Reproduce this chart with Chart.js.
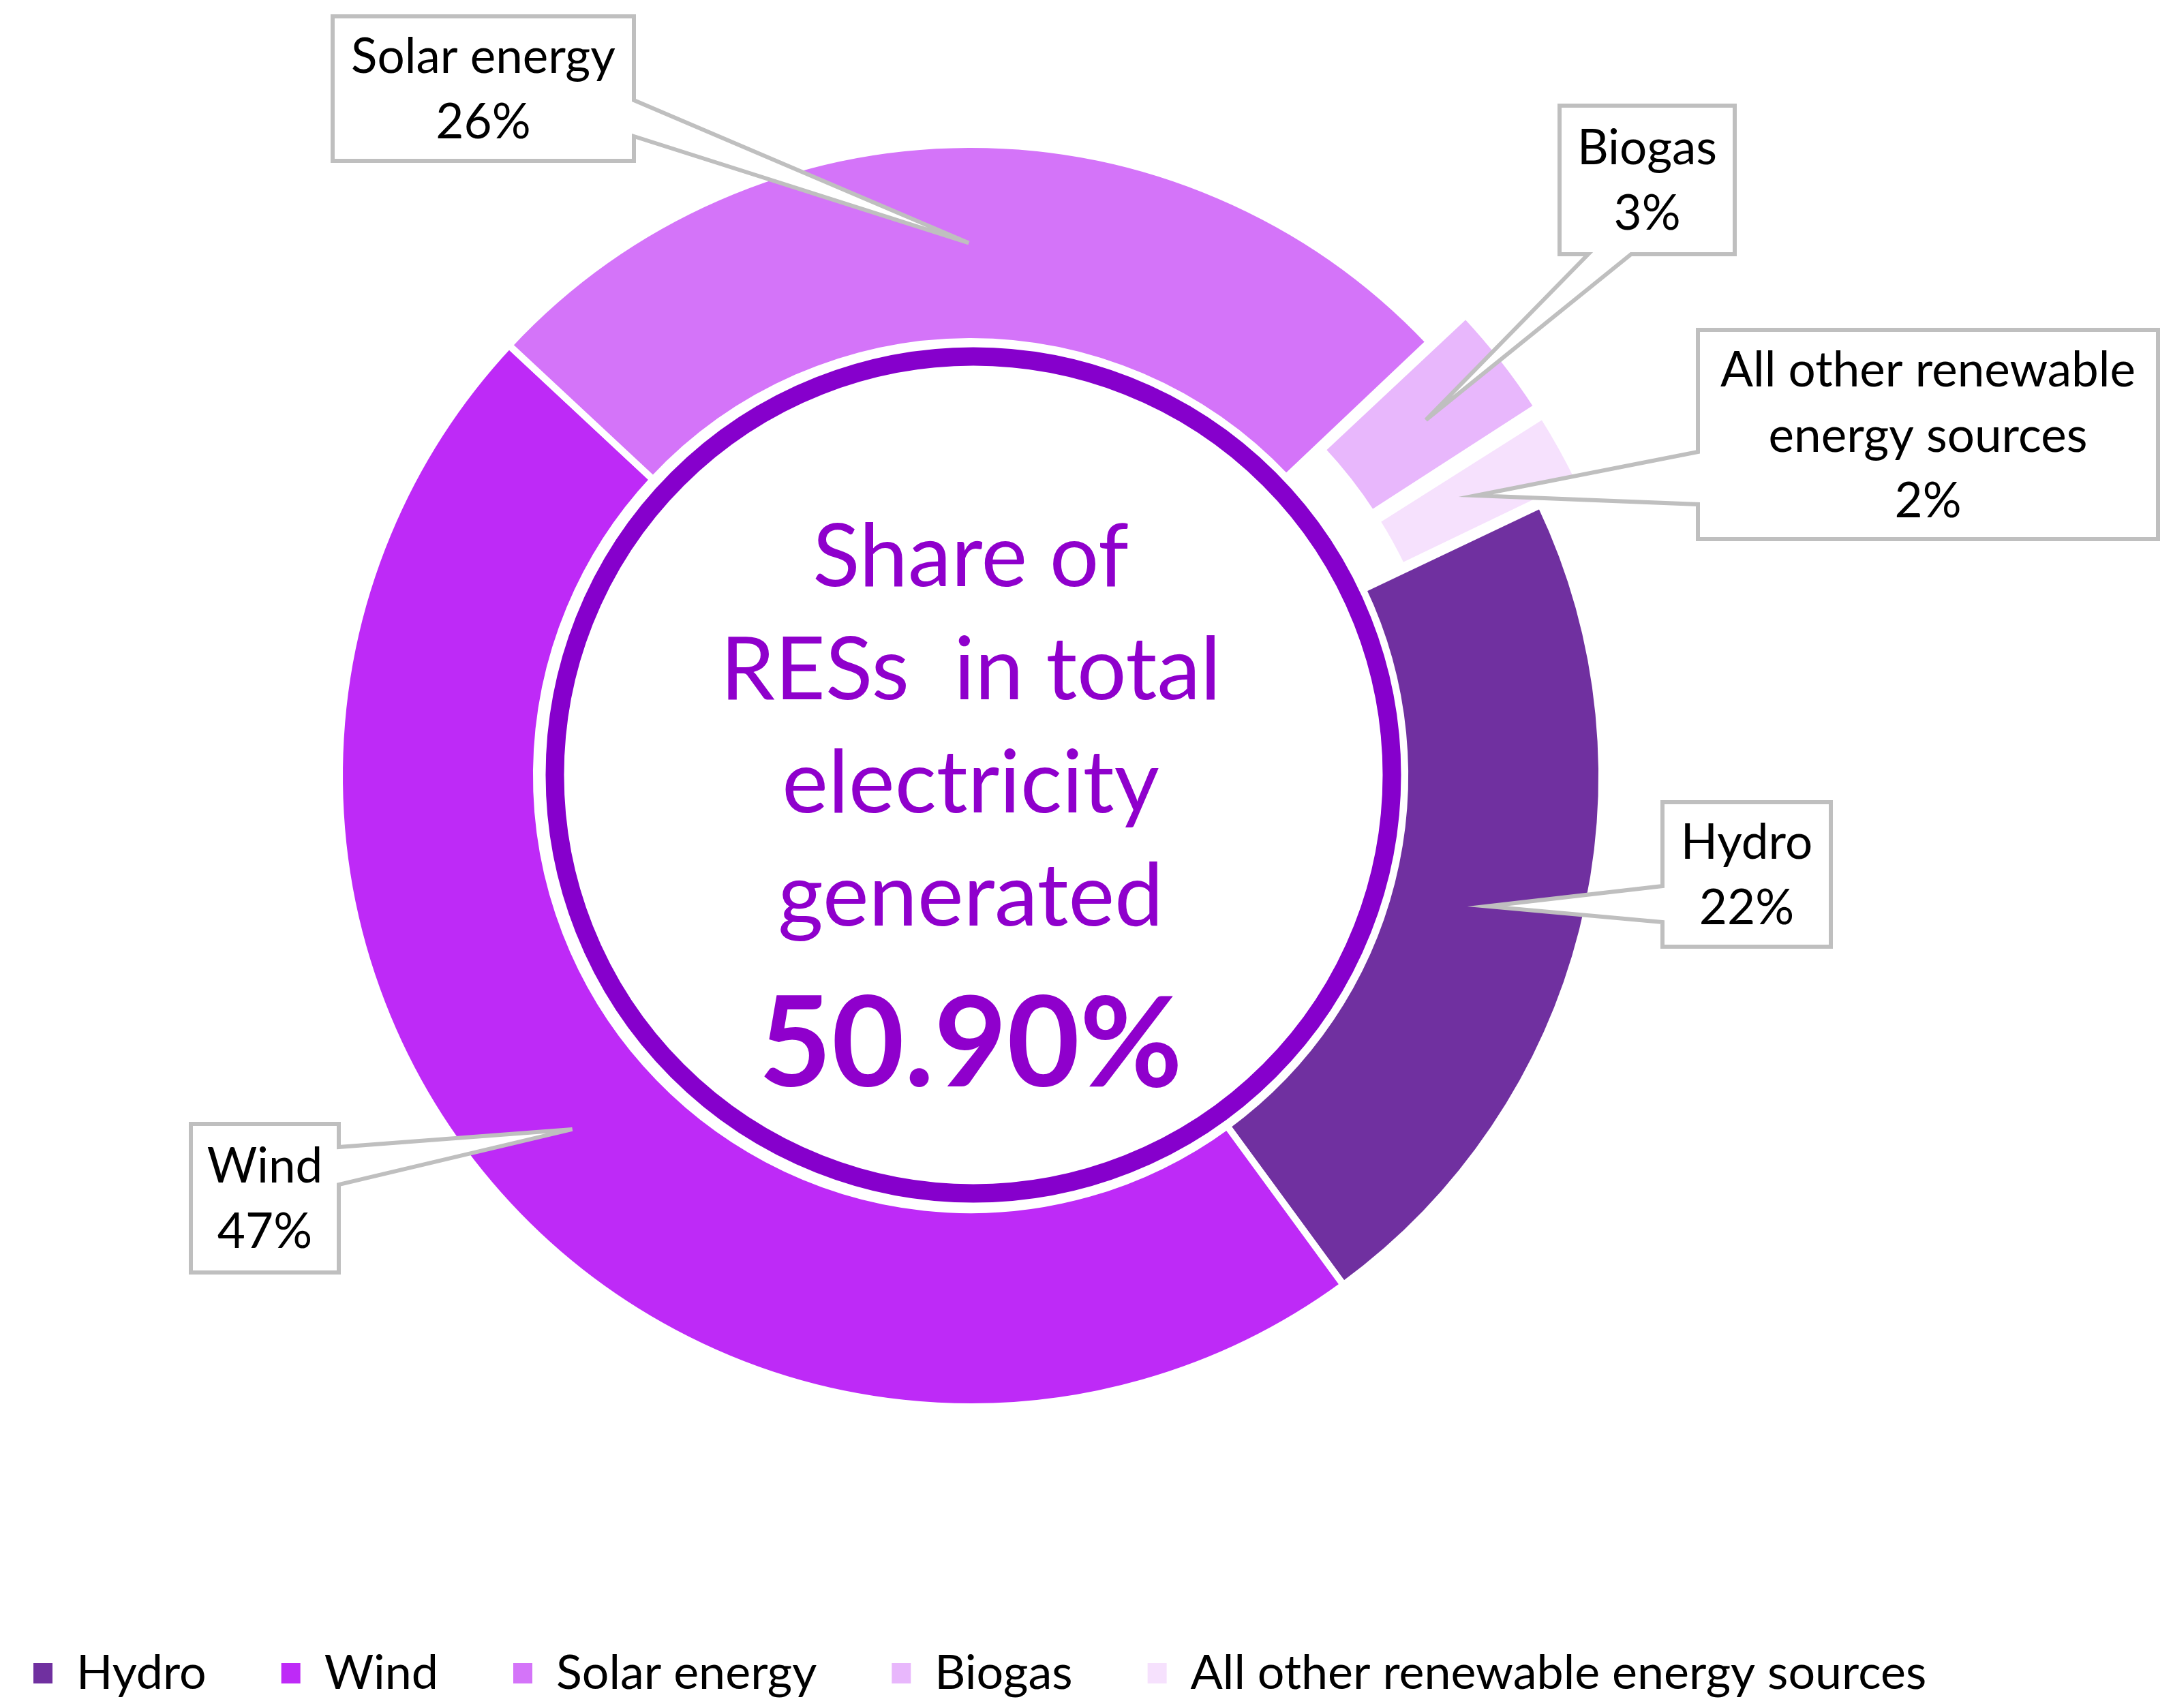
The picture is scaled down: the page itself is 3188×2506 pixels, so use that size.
<!DOCTYPE html>
<html>
<head>
<meta charset="utf-8">
<script src="https://cdn.jsdelivr.net/npm/chart.js@4.4.1/dist/chart.umd.min.js"></script>
<style>
  html, body { margin: 0; padding: 0; background: #ffffff; }
  #wrap { width: 3188px; height: 2506px; }
</style>
</head>
<body>
<div id="wrap"><canvas id="resChart" width="3188" height="2506"></canvas></div>
<script>
// data
const categories = ['Hydro', 'Wind', 'Solar energy', 'Biogas', 'All other renewable energy sources'];
const shares = [22, 47, 26, 3, 2];
const sliceColors = ['#7030A0', '#BE2AF7', '#D474F9', '#E8B7FC', '#F6E1FD'];
const explode = [0, 0, 0, 146, 141];

const centerLines = ['Share of', 'RESs  in total', 'electricity', 'generated'];
const resShare = 50.90;

// where the ring sits on the page
const ringCenter = { x: 1424, y: 1138 };

// callout boxes (annotation layout), one per category
const calloutBoxes = [
    { x0: 2439, y0: 1177, x1: 2686, y1: 1389, side: 'left', b0: 1300, b1: 1353 },
    { x0: 280, y0: 1649, x1: 497, y1: 1867, side: 'right', b0: 1683, b1: 1738 },
    { x0: 488, y0: 24, x1: 930, y1: 236, side: 'right', b0: 147, b1: 200 },
    { x0: 2288, y0: 155, x1: 2545, y1: 373, side: 'bottom', b0: 2330, b1: 2393 },
    { x0: 2491, y0: 484, x1: 3166, y1: 791, side: 'left', b0: 663, b1: 740 }
];

const FONT = 'Lato, "Open Sans", sans-serif';

function wrapText(ctx, text, maxWidth) {
    const words = text.split(' ');
    const lines = [];
    let line = '';
    words.forEach(w => {
        const test = line ? line + ' ' + w : w;
        if (line && ctx.measureText(test).width > maxWidth) {
            lines.push(line);
            line = w;
        } else {
            line = test;
        }
    });
    if (line) lines.push(line);
    return lines;
}

// the legend needs the full width, so the ring area is set here instead of by padding
const placeRing = {
    id: 'placeRing',
    afterLayout(chart) {
        const a = chart.chartArea;
        a.right = 2 * ringCenter.x - a.left;
        a.bottom = 2 * ringCenter.y - a.top;
        a.width = a.right - a.left;
        a.height = a.bottom - a.top;
    }
};

const centerPlugin = {
    id: 'centerPlugin',
    afterDatasetsDraw(chart) {
        const ctx = chart.ctx;
        const arc = chart.getDatasetMeta(0).data[0];
        const cx = arc.x, cy = arc.y;
        ctx.save();
        ctx.beginPath();
        ctx.arc(cx + 4, cy - 1, 614, 0, Math.PI * 2);
        ctx.lineWidth = 27;
        ctx.strokeStyle = '#8600CC';
        ctx.stroke();

        ctx.fillStyle = '#8F00CC';
        ctx.textAlign = 'center';
        ctx.textBaseline = 'alphabetic';
        ctx.font = '128px ' + FONT;
        centerLines.forEach((t, i) => {
            ctx.fillText(t, cx, cy - 278 + i * 166);
        });
        ctx.font = 'bold 184px ' + FONT;
        ctx.fillText(resShare.toFixed(2) + '%', cx, cy + 456);
        ctx.restore();
    }
};

const calloutPlugin = {
    id: 'calloutPlugin',
    afterDatasetsDraw(chart) {
        const ctx = chart.ctx;
        const arcs = chart.getDatasetMeta(0).data;
        const total = shares.reduce((a, b) => a + b, 0);
        ctx.save();
        arcs.forEach((arc, i) => {
            const b = calloutBoxes[i];
            const mid = (arc.startAngle + arc.endAngle) / 2;
            const o = (arc.options.offset || 0) / 4;
            const fix = 1 - Math.sin(Math.min(Math.PI, arc.circumference));
            const r = (arc.innerRadius + arc.outerRadius) / 2 + o + o * fix;
            const tx = arc.x + Math.cos(mid) * r;
            const ty = arc.y + Math.sin(mid) * r;

            ctx.beginPath();
            ctx.moveTo(b.x0, b.y0);
            ctx.lineTo(b.x1, b.y0);
            if (b.side === 'right') {
                ctx.lineTo(b.x1, b.b0); ctx.lineTo(tx, ty); ctx.lineTo(b.x1, b.b1);
            }
            ctx.lineTo(b.x1, b.y1);
            if (b.side === 'bottom') {
                ctx.lineTo(b.b1, b.y1); ctx.lineTo(tx, ty); ctx.lineTo(b.b0, b.y1);
            }
            ctx.lineTo(b.x0, b.y1);
            if (b.side === 'left') {
                ctx.lineTo(b.x0, b.b1); ctx.lineTo(tx, ty); ctx.lineTo(b.x0, b.b0);
            }
            ctx.closePath();
            ctx.fillStyle = '#ffffff';
            ctx.fill();
            ctx.lineWidth = 6;
            ctx.lineJoin = 'miter';
            ctx.strokeStyle = '#BFBFBF';
            ctx.stroke();

            ctx.font = '71px ' + FONT;
            ctx.fillStyle = '#000000';
            ctx.textAlign = 'center';
            ctx.textBaseline = 'alphabetic';
            const lines = wrapText(ctx, chart.data.labels[i], b.x1 - b.x0 - 24);
            lines.push(Math.round(shares[i] / total * 100) + '%');
            const lh = 96;
            const midY = (b.y0 + b.y1) / 2;
            const midX = (b.x0 + b.x1) / 2;
            lines.forEach((t, k) => {
                ctx.fillText(t, midX, midY + (k - (lines.length - 1) / 2) * lh + 25);
            });
        });
        ctx.restore();
    }
};

const ctx = document.getElementById('resChart');
new Chart(ctx, {
    type: 'doughnut',
    data: {
        labels: categories,
        datasets: [{
            data: shares,
            backgroundColor: sliceColors,
            borderColor: '#ffffff',
            borderWidth: 10,
            offset: explode
        }]
    },
    options: {
        responsive: false,
        devicePixelRatio: 1,
        animation: false,
        events: [],
        rotation: 64.6,
        radius: 926,
        cutout: '68.8%',
        layout: {
            padding: { left: -61, right: 0, top: 0, bottom: 6 }
        },
        plugins: {
            tooltip: { enabled: false },
            legend: {
                display: true,
                position: 'bottom',
                align: 'start',
                labels: {
                    boxWidth: 28,
                    boxHeight: 30,
                    padding: 110,
                    color: '#000000',
                    font: { family: FONT, size: 70 },
                    generateLabels: chart =>
                        Chart.overrides.doughnut.plugins.legend.labels.generateLabels(chart)
                            .map(l => ({ ...l, lineWidth: 0 }))
                }
            }
        }
    },
    plugins: [placeRing, centerPlugin, calloutPlugin]
});
</script>
</body>
</html>
